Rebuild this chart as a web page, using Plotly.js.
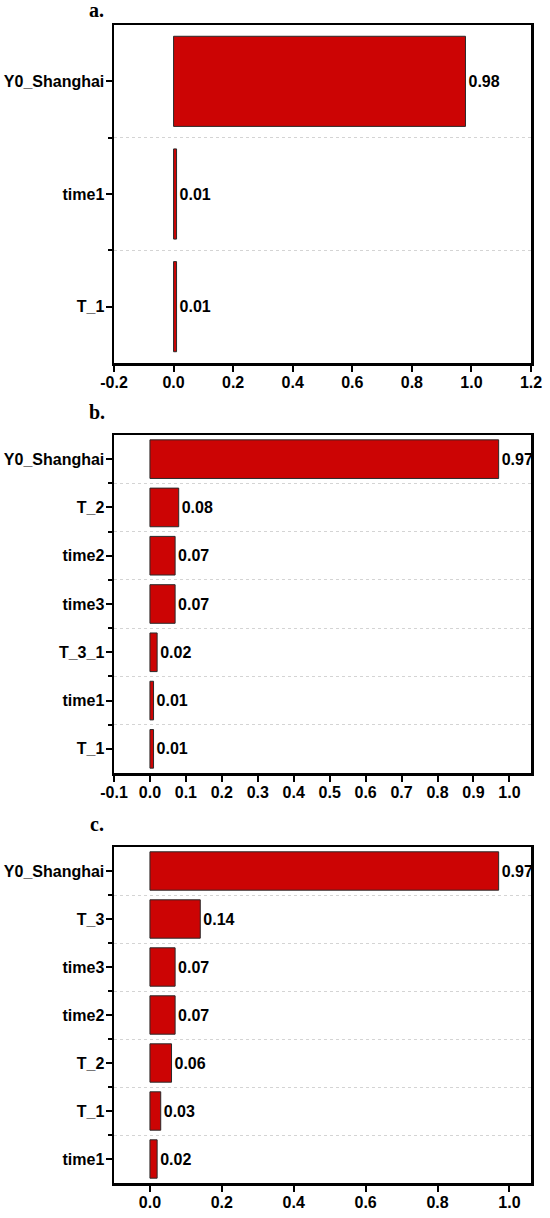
<!DOCTYPE html>
<html>
<head>
<meta charset="utf-8">
<script src="https://cdn.plot.ly/plotly-3.0.1.min.js"></script>
<style>html,body{margin:0;padding:0;background:#fff;}#chart{width:550px;height:1218px;}</style>
</head>
<body>
<div id="chart"></div>
<script>
// Panel a
const catsA = ["Y0_Shanghai", "time1", "T_1"];
const valsA = [0.98, 0.01, 0.01];
// Panel b
const catsB = ["Y0_Shanghai", "T_2", "time2", "time3", "T_3_1", "time1", "T_1"];
const valsB = [0.97, 0.08, 0.07, 0.07, 0.02, 0.01, 0.01];
// Panel c
const catsC = ["Y0_Shanghai", "T_3", "time3", "time2", "T_2", "T_1", "time1"];
const valsC = [0.97, 0.14, 0.07, 0.07, 0.06, 0.03, 0.02];
// x tick labels
const xTicksA = [-0.2, 0, 0.2, 0.4, 0.6, 0.8, 1.0, 1.2];
const xLabelsA = ["-0.2", "0.0", "0.2", "0.4", "0.6", "0.8", "1.0", "1.2"];
const xTicksB = [-0.1, 0, 0.1, 0.2, 0.3, 0.4, 0.5, 0.6, 0.7, 0.8, 0.9, 1.0];
const xLabelsB = ["-0.1", "0.0", "0.1", "0.2", "0.3", "0.4", "0.5", "0.6", "0.7", "0.8", "0.9", "1.0"];
const xTicksC = [0, 0.2, 0.4, 0.6, 0.8, 1.0];
const xLabelsC = ["0.0", "0.2", "0.4", "0.6", "0.8", "1.0"];
const panelTitles = ["a.", "b.", "c."];

const H = 1218, W = 550;
const SANS = "Arial, 'Liberation Sans', sans-serif";
const lblFont = {family: SANS, size: 16, color: "#000", weight: "bold"};

function idx(n) { return Array.from({length: n}, (_, i) => i); }
function bounds(n) { return Array.from({length: n - 1}, (_, i) => i + 0.5); }

function barTrace(cats, vals, ax) {
  return {
    type: "bar", orientation: "h",
    x: vals, y: idx(cats.length),
    width: 0.8,
    xaxis: "x" + ax, yaxis: "y" + ax,
    marker: {color: "#CC0404", line: {color: "#2a2a2a", width: 1}},
    text: vals.map(v => v.toFixed(2)),
    textposition: "outside",
    cliponaxis: false,
    textfont: lblFont, outsidetextfont: lblFont,
    hoverinfo: "skip"
  };
}

function xAxis(range, tv, tt, anchor) {
  return {
    range: range, tickmode: "array", tickvals: tv, ticktext: tt,
    ticks: "outside", ticklen: 6, tickwidth: 2, tickcolor: "#000",
    ticklabelstandoff: -3,
    showline: true, linewidth: 2.5, linecolor: "#000", mirror: true,
    showgrid: false, zeroline: false, anchor: anchor,
    domain: [114 / W, 531 / W],
    tickfont: lblFont, fixedrange: true
  };
}
function yAxis(cats, top, bottom, anchor) {
  const n = cats.length;
  return {
    range: [n - 0.5, -0.5], tickmode: "array", tickvals: idx(n), ticktext: cats,
    ticks: "outside", ticklen: 6, tickwidth: 2, tickcolor: "#000",
    ticklabelstandoff: -2,
    showline: true, linewidth: 2.5, linecolor: "#000", mirror: true,
    showgrid: false, zeroline: false, anchor: anchor,
    domain: [1 - bottom / H, 1 - top / H],
    tickfont: lblFont, fixedrange: true,
    minor: {tickmode: "array", tickvals: bounds(n), ticks: "outside", ticklen: 4, tickwidth: 2,
            tickcolor: "#000", showgrid: true, gridcolor: "#d4d4d4", gridwidth: 1, griddash: "dot"}
  };
}

const data = [barTrace(catsA, valsA, ""), barTrace(catsB, valsB, "2"), barTrace(catsC, valsC, "3")];

function title(txt, xc, yc) {
  return {text: txt, x: xc / W, y: 1 - yc / H, xref: "paper", yref: "paper",
          xanchor: "center", yanchor: "middle", showarrow: false,
          font: {family: "'Liberation Serif', 'Times New Roman', serif", size: 20, color: "#000", weight: "bold"}};
}

const layout = {
  width: W, height: H,
  margin: {l: 0, r: 0, t: 0, b: 0},
  paper_bgcolor: "#fff", plot_bgcolor: "#fff",
  showlegend: false,
  xaxis: xAxis([-0.2, 1.2], xTicksA, xLabelsA, "y"),
  yaxis: yAxis(catsA, 25, 363, "x"),
  xaxis2: xAxis([-0.1, 1.06], xTicksB, xLabelsB, "y2"),
  yaxis2: yAxis(catsB, 435, 773, "x2"),
  xaxis3: xAxis([-0.1, 1.06], xTicksC, xLabelsC, "y3"),
  yaxis3: yAxis(catsC, 847, 1183, "x3"),
  annotations: [title(panelTitles[0], 96, 10), title(panelTitles[1], 97, 412), title(panelTitles[2], 97, 824)]
};

Plotly.newPlot("chart", data, layout, {displayModeBar: false, staticPlot: true});
</script>
</body>
</html>
